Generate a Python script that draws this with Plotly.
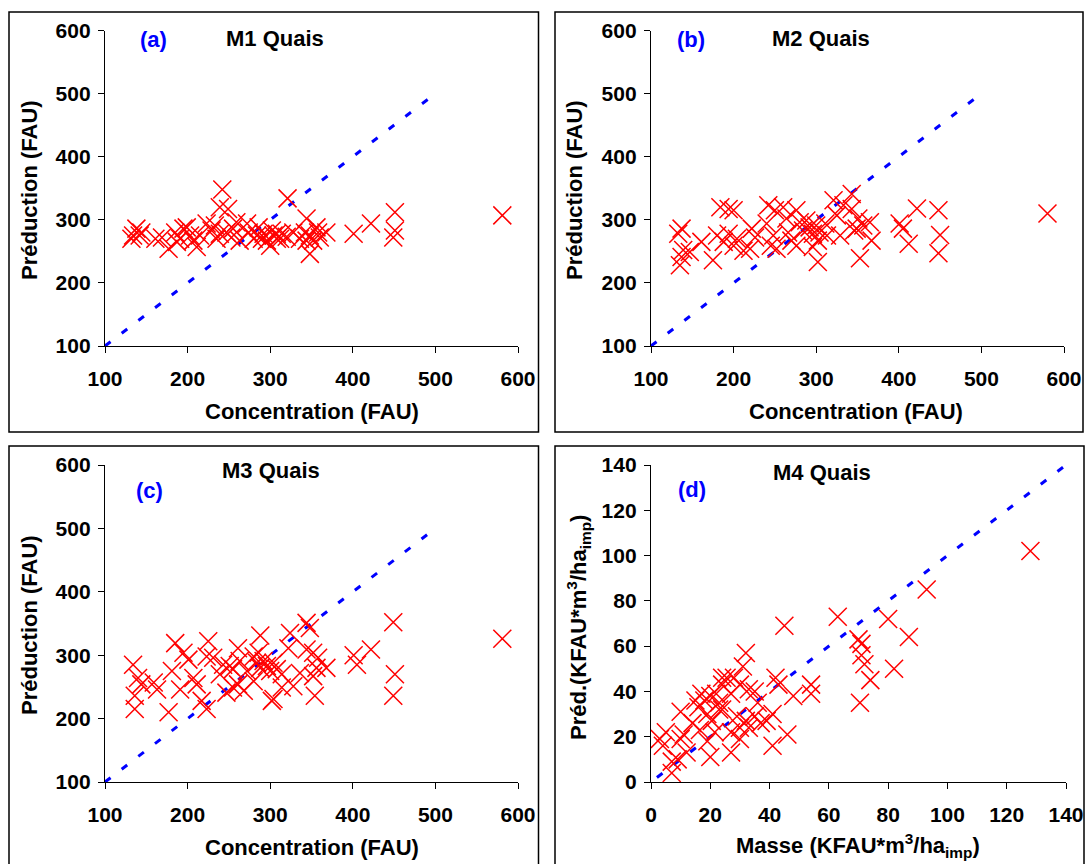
import plotly.graph_objects as go

# ---------------- data ----------------
m1_conc = [242, 239, 249, 321, 344, 451, 451, 449, 581, 422, 401, 348, 138, 134, 132, 142, 161, 177, 185, 191,
           199, 203, 211, 215, 223, 229, 235, 247, 253, 259, 263, 274, 280, 286, 292, 296, 300, 304, 308, 314,
           320, 328, 336, 342, 348, 352, 358, 360, 368, 144, 169, 195, 207, 233, 272, 284, 302, 308, 344, 356,
           187, 239, 255, 290, 312]
m1_pred = [348, 320, 317, 334, 302, 312, 283, 272, 307, 294, 278, 246, 286, 275, 270, 275, 270, 254, 280, 270,
           288, 275, 257, 275, 294, 283, 270, 280, 272, 296, 267, 280, 270, 288, 278, 267, 259, 275, 270, 278,
           273, 280, 270, 280, 275, 267, 280, 272, 280, 280, 272, 286, 267, 291, 294, 275, 283, 278, 267, 288,
           265, 278, 286, 270, 270]

m2_conc = [580, 448, 422, 401, 405, 412, 450, 448, 353, 321, 343, 343, 351, 357, 365, 367, 349, 184, 194, 200,
           137, 133, 137, 135, 139, 161, 175, 180, 194, 204, 212, 222, 226, 220, 242, 250, 260, 240, 248, 252,
           264, 266, 276, 280, 284, 288, 292, 296, 300, 302, 304, 311, 302, 296, 313, 329, 333, 270, 245, 200,
           147, 188, 276, 325, 346]
m2_pred = [310, 315, 318, 294, 286, 262, 276, 247, 239, 331, 341, 317, 302, 291, 296, 267, 286, 320, 317, 315,
           286, 278, 241, 228, 252, 265, 236, 275, 278, 270, 251, 286, 272, 254, 323, 315, 320, 294, 275, 254,
           302, 280, 315, 296, 283, 299, 288, 278, 291, 267, 280, 294, 233, 257, 275, 275, 323, 267, 259, 259,
           249, 265, 259, 307, 283]

m3_conc = [581, 449, 451, 449, 422, 401, 405, 354, 344, 348, 324, 288, 322, 344, 352, 358, 368, 352, 328, 302,
           304, 314, 268, 255, 247, 223, 217, 185, 195, 201, 225, 223, 231, 207, 211, 191, 181, 177, 136, 136,
           134, 140, 144, 163, 159, 243, 251, 255, 261, 263, 280, 284, 288, 292, 296, 300, 304, 308, 314, 286,
           272, 239, 336, 356, 261, 280]
m3_pred = [326, 352, 270, 236, 309, 300, 285, 236, 351, 343, 335, 331, 311, 309, 304, 296, 280, 267, 251, 228,
           231, 249, 244, 249, 241, 215, 228, 319, 304, 293, 322, 298, 296, 264, 254, 246, 275, 210, 215, 236,
           285, 264, 254, 246, 257, 285, 283, 278, 311, 291, 298, 288, 280, 291, 283, 275, 288, 278, 270, 304,
           275, 270, 272, 280, 254, 259]

m4_masse = [93, 80, 87, 82, 63, 45, 70, 71, 71, 72, 74, 70.5, 32, 31, 42, 43, 54, 54, 48, 46,
            41, 41, 36, 35, 33, 30, 27, 25.5, 24, 22, 23, 20, 19, 18, 16, 15, 10, 20.5, 16.5, 20,
            19, 12, 10, 5, 4, 7, 7, 3, 9, 28, 30, 33, 35, 27, 24, 29, 30, 37, 39, 21.5,
            14, 11, 27, 32, 23, 128, 24, 17]
m4_pred = [85, 72, 64, 50, 73, 69, 63, 61, 56, 52, 45, 35, 57, 51, 46, 43, 43, 39, 38, 21,
           16, 30, 35, 29, 24, 19, 13, 46, 43, 39, 35, 38, 30, 36, 33, 36, 31, 27, 23, 11,
           18, 13, 19, 22, 16, 9, 4, 19, 10, 46, 43, 41, 40, 39, 32, 29, 24, 26, 27, 22,
           26, 21, 22, 27, 32, 102, 46, 39]

ref_abc = [100, 500]
ref_d = [2, 140]

x_ticks_abc = [100, 200, 300, 400, 500, 600]
y_ticks_abc = [100, 200, 300, 400, 500, 600]
ticks_d = [0, 20, 40, 60, 80, 100, 120, 140]

# ---------------- layout helpers ----------------
W, H = 1085, 864


def px(x):
    return x / W


def py(y):
    return 1 - y / H


FONT = "Liberation Sans, Arial, sans-serif"
RED = "#ff0000"
BLUE = "#0000ff"

fig = go.Figure()

panels = [
    (1, m1_conc, m1_pred, ref_abc, (105, 518), (346, 30.5), [100, 600], x_ticks_abc, y_ticks_abc),
    (2, m2_conc, m2_pred, ref_abc, (651, 1064), (346, 30.5), [100, 600], x_ticks_abc, y_ticks_abc),
    (3, m3_conc, m3_pred, ref_abc, (105, 518), (782, 465), [100, 600], x_ticks_abc, y_ticks_abc),
    (4, m4_masse, m4_pred, ref_d, (651, 1066), (782, 465), [0, 140], ticks_d, ticks_d),
]

axis_common = dict(
    showline=True, linecolor="black", linewidth=1.3, mirror=False,
    ticks="outside", ticklen=6, tickwidth=1.3, tickcolor="black",
    showgrid=False, zeroline=False, automargin=False,
    tickfont=dict(family=FONT, size=21, color="black", weight="bold"),
)
inner_common = dict(
    showline=False, ticks="inside", ticklen=7, tickwidth=1.3, tickcolor="black",
    showticklabels=False, showgrid=False, zeroline=False, automargin=False,
)


def ax_name(letter, n):
    return f"{letter}axis" if n == 1 else f"{letter}axis{n}"


def ax_id(letter, n):
    return letter if n == 1 else f"{letter}{n}"


for n, xd, yd, ref, xdom, ydom, rng, xt, yt in panels:
    xa, ya = ax_id("x", n), ax_id("y", n)
    fig.add_trace(go.Scatter(
        x=ref, y=ref, mode="lines", xaxis=xa, yaxis=ya,
        line=dict(color=BLUE, width=3, dash="7px,14px"), hoverinfo="skip", showlegend=False,
    ))
    fig.add_trace(go.Scatter(
        x=xd, y=yd, mode="markers", xaxis=xa, yaxis=ya,
        marker=dict(symbol="x-thin-open", size=18, color=RED, line=dict(color=RED, width=1.5)),
        showlegend=False,
    ))
    xdomain = [px(xdom[0]), px(xdom[1])]
    ydomain = [py(ydom[0]), py(ydom[1])]
    fig.layout[ax_name("x", n)] = dict(domain=xdomain, range=rng, anchor=ya,
                                       tickvals=xt, ticklabelstandoff=8, **axis_common)
    fig.layout[ax_name("y", n)] = dict(domain=ydomain, range=rng, anchor=xa,
                                       tickvals=yt, ticklabelstandoff=3, **axis_common)
    # overlay axes providing the inner half of the crossing tick marks
    m = n + 4
    fig.layout[ax_name("x", m)] = dict(domain=xdomain, range=rng, anchor=ya, overlaying=xa,
                                       tickvals=xt, **inner_common)
    fig.layout[ax_name("y", m)] = dict(domain=ydomain, range=rng, anchor=xa, overlaying=ya,
                                       tickvals=yt, **inner_common)

# frames
frames = [(9, 12, 538.5, 432), (555, 12, 1083, 432), (9, 446, 538.5, 880), (555, 446, 1084, 880)]
for x0, y0, x1, y1 in frames:
    fig.add_shape(type="rect", xref="paper", yref="paper",
                  x0=px(x0), x1=px(x1), y0=py(y1), y1=py(y0),
                  line=dict(color="black", width=1.5), layer="below")


def ann(text, x, y, size=22, color="black", angle=0):
    fig.add_annotation(text=text, xref="paper", yref="paper", x=px(x), y=py(y),
                       showarrow=False, textangle=angle, xanchor="center", yanchor="middle",
                       font=dict(family=FONT, size=size, color=color, weight="bold"))


ann("(a)", 153, 40, color=BLUE)
ann("M1 Quais", 275, 39)
ann("(b)", 691, 40, color=BLUE)
ann("M2 Quais", 821, 39)
ann("(c)", 149, 490, color=BLUE)
ann("M3 Quais", 271, 470)
ann("(d)", 692, 489, color=BLUE)
ann("M4 Quais", 822, 472)

ann("Concentration (FAU)", 312, 411)
ann("Concentration (FAU)", 856, 411)
ann("Concentration (FAU)", 312, 847)
ann("Masse (KFAU*m<sup>3</sup>/ha<sub>imp</sub>)", 858, 845)

ann("Préduction (FAU)", 29, 190, angle=-90)
ann("Préduction (FAU)", 574, 190, angle=-90)
ann("Préduction (FAU)", 29, 625, angle=-90)
ann("Préd.(KFAU*m<sup>3</sup>/ha<sub>imp</sub>)", 578, 628, angle=-90)

fig.update_layout(
    width=W, height=H, autosize=False,
    margin=dict(l=0, r=0, t=0, b=0, pad=0, autoexpand=False),
    paper_bgcolor="white", plot_bgcolor="white",
    showlegend=False,
)

fig.write_html(
    "out.html",
    config={"displayModeBar": False},
    post_script="document.body.style.margin='0px';document.body.style.padding='0px';"
                "document.documentElement.style.overflow='hidden';",
)
